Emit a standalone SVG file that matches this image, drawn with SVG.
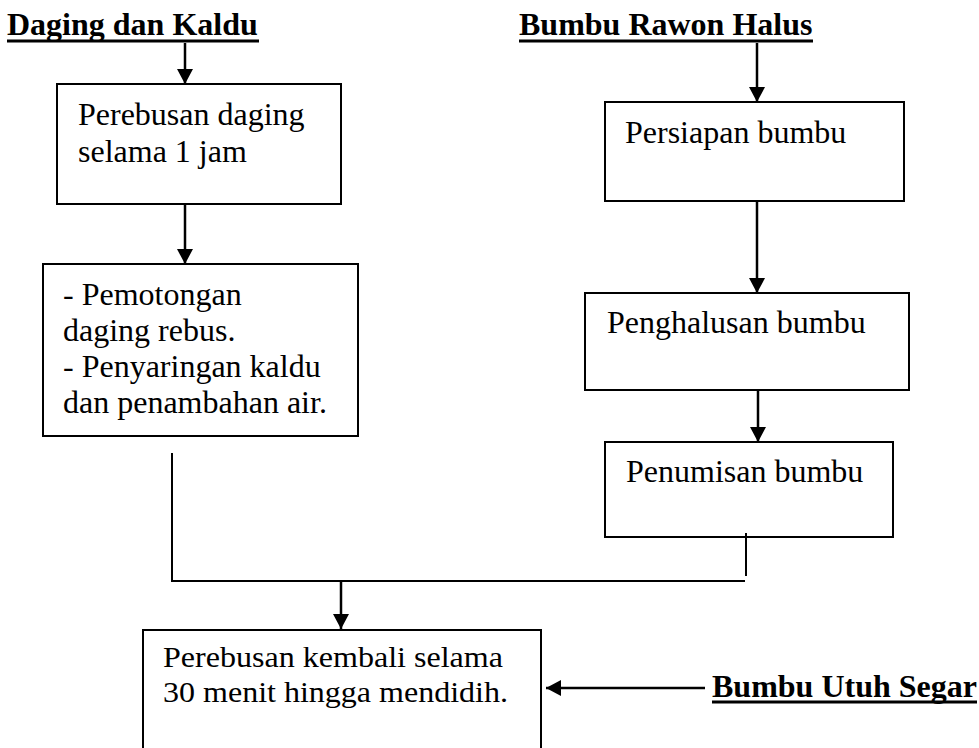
<svg xmlns="http://www.w3.org/2000/svg" width="979" height="748" viewBox="0 0 979 748">
<style>
.box{fill:#fff;stroke:#000;stroke-width:2}
.t{font-family:"Liberation Serif","Times New Roman",Times,serif;font-size:32px;fill:#000}
.t2{font-family:"Liberation Serif","Times New Roman",Times,serif;font-size:30px;fill:#000}
.h{font-family:"Liberation Serif","Times New Roman",Times,serif;font-size:32px;font-weight:bold;fill:#000}
.ul{stroke:#000;stroke-width:3}
.c{fill:none;stroke:#000;stroke-width:2}
.a{fill:none;stroke:#000;stroke-width:2.5;marker-end:url(#ah)}
</style>
<defs>
<marker id="ah" markerUnits="userSpaceOnUse" viewBox="0 0 15 16" markerWidth="15" markerHeight="16" refX="15" refY="8" orient="auto">
<path d="M0,0 L15,8 L0,16 Z" fill="#000"/>
</marker>
</defs>
<rect width="979" height="748" fill="#fff"/>

<g id="title-daging">
<text class="h" x="7" y="35">Daging dan Kaldu</text>
<line class="ul" x1="7" y1="41" x2="259" y2="41"/>
</g>
<g id="title-bumbu-rawon">
<text class="h" x="519" y="35">Bumbu Rawon Halus</text>
<line class="ul" x1="519" y1="41" x2="813" y2="41"/>
</g>
<g id="title-bumbu-utuh">
<text class="h" x="712" y="697">Bumbu Utuh Segar</text>
<line class="ul" x1="712" y1="702" x2="977" y2="702"/>
</g>

<g id="node-perebusan-daging">
<rect class="box" x="57" y="84" width="284" height="120"/>
<text class="t" x="78" y="125">Perebusan daging</text>
<text class="t" x="78" y="162">selama 1 jam</text>
</g>
<g id="node-pemotongan">
<rect class="box" x="43" y="264" width="315" height="172"/>
<text class="t" x="63" y="305">- Pemotongan</text>
<text class="t" x="63" y="341">daging rebus.</text>
<text class="t" x="63" y="377">- Penyaringan kaldu</text>
<text class="t" x="63" y="413">dan penambahan air.</text>
</g>
<g id="node-persiapan">
<rect class="box" x="605" y="102" width="299" height="99"/>
<text class="t" x="625" y="143">Persiapan bumbu</text>
</g>
<g id="node-penghalusan">
<rect class="box" x="585" y="293" width="324" height="97"/>
<text class="t" x="607" y="333">Penghalusan bumbu</text>
</g>
<g id="node-penumisan">
<rect class="box" x="605" y="442" width="288" height="95"/>
<text class="t" x="626" y="482">Penumisan bumbu</text>
</g>
<g id="node-perebusan-kembali">
<rect class="box" x="143" y="630" width="398" height="130"/>
<text class="t2" x="163" y="667" textLength="340" lengthAdjust="spacingAndGlyphs">Perebusan kembali selama</text>
<text class="t2" x="163" y="702" textLength="345" lengthAdjust="spacingAndGlyphs">30 menit hingga mendidih.</text>
</g>

<g id="connectors">
<line class="a" x1="185" y1="43" x2="185" y2="84"/>
<line class="a" x1="185" y1="204" x2="185" y2="264"/>
<line class="a" x1="757" y1="43" x2="757" y2="102"/>
<line class="a" x1="757" y1="201" x2="757" y2="293"/>
<line class="a" x1="758" y1="390" x2="758" y2="442"/>
<polyline class="c" points="172,453 172,581 745,581"/>
<line class="c" x1="746" y1="533" x2="746" y2="576"/>
<line class="a" x1="341" y1="581" x2="341" y2="629"/>
<line class="a" x1="705" y1="688" x2="546" y2="688"/>
</g>
</svg>
